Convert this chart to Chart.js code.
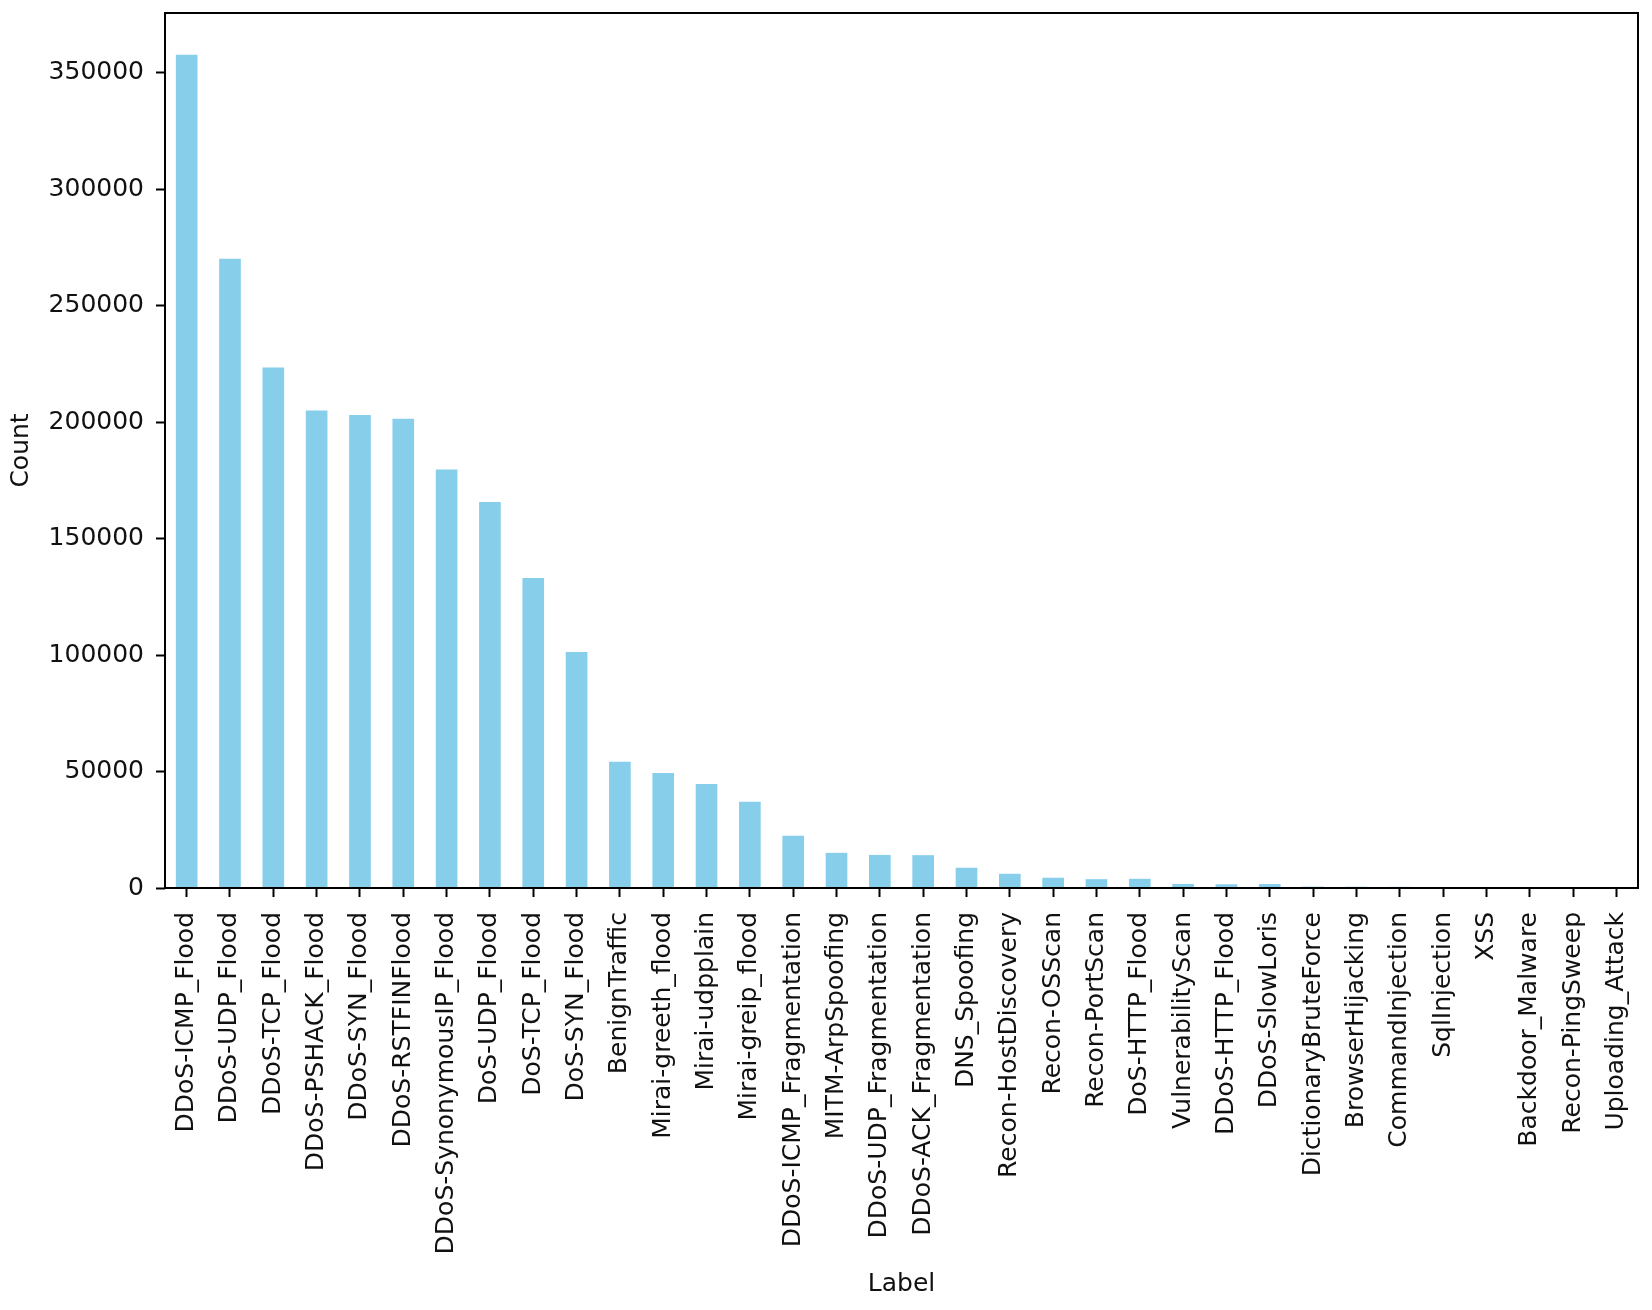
<!DOCTYPE html>
<html>
<head>
<meta charset="utf-8">
<script src="https://cdn.jsdelivr.net/npm/chart.js@4/dist/chart.umd.min.js"></script>
<style>
  html, body { margin: 0; padding: 0; background: #ffffff; }
  #wrap { width: 1652px; height: 1310px; }
</style>
</head>
<body>
<div id="wrap"><canvas id="c" width="1652" height="1310"></canvas></div>
<script>
const categories = [
  "DDoS-ICMP_Flood", "DDoS-UDP_Flood", "DDoS-TCP_Flood", "DDoS-PSHACK_Flood",
  "DDoS-SYN_Flood", "DDoS-RSTFINFlood", "DDoS-SynonymousIP_Flood", "DoS-UDP_Flood",
  "DoS-TCP_Flood", "DoS-SYN_Flood", "BenignTraffic", "Mirai-greeth_flood",
  "Mirai-udpplain", "Mirai-greip_flood", "DDoS-ICMP_Fragmentation", "MITM-ArpSpoofing",
  "DDoS-UDP_Fragmentation", "DDoS-ACK_Fragmentation", "DNS_Spoofing", "Recon-HostDiscovery",
  "Recon-OSScan", "Recon-PortScan", "DoS-HTTP_Flood", "VulnerabilityScan",
  "DDoS-HTTP_Flood", "DDoS-SlowLoris", "DictionaryBruteForce", "BrowserHijacking",
  "CommandInjection", "SqlInjection", "XSS", "Backdoor_Malware",
  "Recon-PingSweep", "Uploading_Attack"
];
const counts = [
  357800, 270200, 223500, 205000,
  203100, 201500, 179700, 165700,
  133100, 101300, 54200, 49400,
  44600, 37000, 22400, 15100,
  14200, 14100, 8700, 6100,
  4400, 3800, 3950, 1750,
  1600, 1700, 600, 550,
  500, 200, 150, 100,
  80, 60
];
const yTickValues = [0, 50000, 100000, 150000, 200000, 250000, 300000, 350000];
const xTitle = "Label";
const yTitle = "Count";

const FONT = "'DejaVu Sans', 'Liberation Sans', sans-serif";

const framePlugin = {
  id: 'frame',
  afterDatasetsDraw(chart) {
    const {ctx, chartArea: a} = chart;
    ctx.save();
    ctx.strokeStyle = '#000';
    ctx.lineWidth = 2;
    ctx.strokeRect(a.left, a.top, a.right - a.left, a.bottom - a.top);
    ctx.restore();
  }
};

new Chart(document.getElementById('c'), {
  type: 'bar',
  data: {
    labels: categories,
    datasets: [{
      data: counts,
      backgroundColor: '#87CEEB',
      borderWidth: 0,
      barPercentage: 0.5,
      categoryPercentage: 1.0
    }]
  },
  options: {
    responsive: false,
    animation: false,
    devicePixelRatio: 1,
    layout: { padding: { left: 0, right: 14, top: 13, bottom: 0 } },
    plugins: { legend: { display: false }, tooltip: { enabled: false } },
    scales: {
      x: {
        offset: true,
        grid: { display: true, drawOnChartArea: false, drawTicks: true, tickLength: 9, tickWidth: 2, tickColor: '#000', offset: false },
        border: { display: false },
        ticks: {
          autoSkip: false, minRotation: 90, maxRotation: 90, padding: 15,
          color: '#111', font: { family: FONT, size: 25 }
        },
        title: { display: true, text: xTitle, color: '#111', font: { family: FONT, size: 25 }, padding: { top: 0, bottom: 11 } },
        afterFit(scale) { scale.height = 422; scale.paddingLeft = 0; scale.paddingRight = 0; }
      },
      y: {
        min: 0,
        max: Math.max(...counts) * 1.05,
        grid: { display: true, drawOnChartArea: false, drawTicks: true, tickLength: 9, tickWidth: 2, tickColor: '#000' },
        border: { display: false },
        ticks: {
          stepSize: 50000, padding: 12,
          color: '#111', font: { family: FONT, size: 25 },
          callback: (v) => String(v)
        },
        afterBuildTicks(scale) {
          scale.ticks = yTickValues.map(v => ({ value: v }));
        },
        title: { display: true, text: yTitle, color: '#111', font: { family: FONT, size: 25 }, padding: { top: 6, bottom: 0 } },
        afterFit(scale) { scale.width = 165; scale.paddingTop = 0; scale.paddingBottom = 0; }
      }
    }
  },
  plugins: [framePlugin]
});
</script>
</body>
</html>
